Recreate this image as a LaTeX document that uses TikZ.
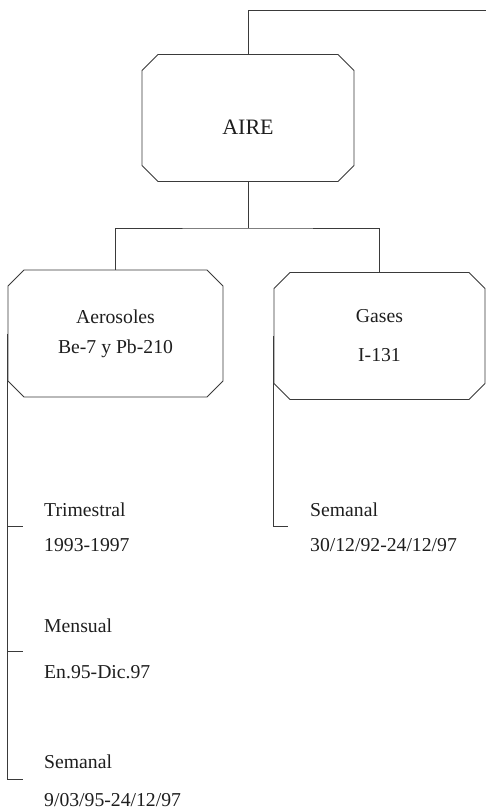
\documentclass[tikz,border=0pt]{standalone}
\usepackage{fontspec}
\setmainfont{Liberation Serif}
\usetikzlibrary{shapes.misc, positioning}
\definecolor{inkGrey}{HTML}{3A3A3A}
\definecolor{txtGrey}{HTML}{1E1E1E}
\tikzset{
  cajon/.style={draw=inkGrey, line width=0.9pt, chamfered rectangle,
    chamfered rectangle xsep=13pt, minimum width=212pt, minimum height=127pt,
    inner sep=0pt, align=center, text=txtGrey, font=\fontsize{19.7}{24}\selectfont},
  periodo/.style={anchor=west, align=left, inner sep=0pt, text=txtGrey,
    font=\fontsize{19.7}{24}\selectfont},
  rama/.style={draw=inkGrey, line width=0.9pt},
}
\begin{document}
\begin{tikzpicture}[x=1pt, y=-1pt]
\useasboundingbox (0,0) rectangle (486,811);
% boxes
\node[cajon, text height=32pt, text depth=0pt, font=\fontsize{22}{26}\selectfont] (aire) at (248,118) {AIRE};
\node[cajon, minimum width=215pt] (aero) at (115.5,333.5) {Aerosoles\\[6pt]Be-7 y Pb-210};
\node[cajon, minimum width=211pt] (gases) at (379.5,336) {Gases\\[15pt]I-131};
% periods
\node[periodo] (trim) at (44,527.5) {Trimestral\\[11pt]1993-1997};
\node[periodo] (mens) at (44,649) {Mensual\\[22pt]En.95-Dic.97};
\node[periodo] (sema) at (44,781) {Semanal\\[14pt]9/03/95-24/12/97};
\node[periodo] (semg) at (310,527.5) {Semanal\\[11pt]30/12/92-24/12/97};
% connectors
\coordinate (salida) at (486,10);
\coordinate (bus) at (248,228);
\coordinate (t1) at (23,526);
\coordinate (t2) at (23,651);
\coordinate (t3) at (23,779);
\coordinate (t4) at (288,526);
\draw[rama] (aire.north) |- (salida);
\draw[rama] (aire.south) -- (bus);
\draw[rama] (aero.north) |- (bus) -| (gases.north);
\draw[rama] (aero.west) |- (t3);
\draw[rama] (aero.west |- t1) -- (t1);
\draw[rama] (aero.west |- t2) -- (t2);
\draw[rama] (gases.west) |- (t4);
\end{tikzpicture}
\end{document}
